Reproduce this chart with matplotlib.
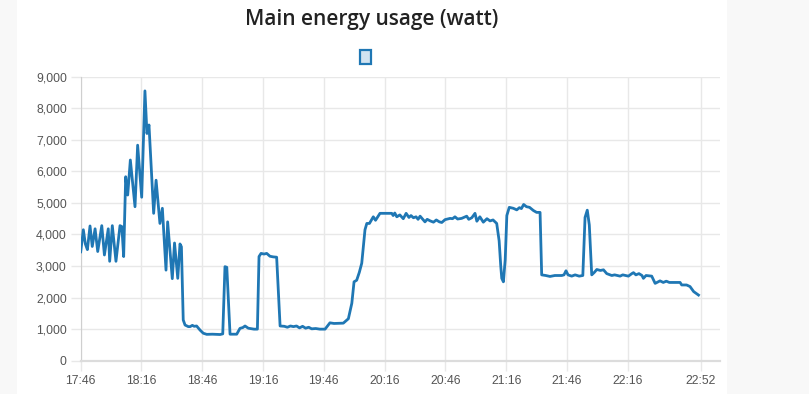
import datetime as dt
import matplotlib
matplotlib.use("Agg")
import matplotlib.pyplot as plt
import matplotlib.dates as mdates
from matplotlib.patches import Rectangle

# ---- data (minutes after 17:46, watt) ----
minutes = [0.0, 1.3, 2.3, 3.3, 4.6, 5.7, 7.1, 8.4, 10.4, 11.7, 13.6, 14.3, 15.6, 17.4,
           19.4, 20.3, 21.2, 22.2, 23.2, 24.5, 26.8, 28.1, 30.1, 31.7, 32.7, 33.7, 36.0,
           37.2, 39.1, 40.3, 42.1, 42.9, 45.2, 46.3, 47.9, 49.0, 49.7, 50.6, 51.5, 53.1,
           54.0, 55.1, 56.0, 57.2, 58.9, 60.5, 62.2, 65.0, 68.8, 70.1, 71.2, 72.1, 73.7,
           77.0, 78.6, 80.0, 81.1, 82.7, 83.6, 85.5, 87.2, 88.0, 89.0, 90.5, 91.8, 93.4,
           95.0, 96.7, 98.4, 100.5, 102.0, 103.5, 105.0, 106.5, 108.0, 109.5, 111.0, 112.5,
           114.0, 116.0, 118.0, 120.6, 123.0, 125.0, 129.6, 132.1, 133.8, 134.9, 136.2,
           137.5, 138.7, 140.3, 141.2, 142.5, 144.4, 145.5, 147.7, 150.0, 153.5, 154.2,
           155.0, 156.0, 157.5, 159.2, 160.6, 162.0, 163.0, 164.2, 165.5, 166.5, 167.5,
           169.9, 171.0, 172.5, 174.1, 175.5, 177.0, 178.2, 179.8, 181.0, 182.3, 183.5,
           184.7, 186.0, 188.0, 190.5, 191.5, 193.0, 194.6, 195.5, 197.0, 198.7, 200.5,
           202.0, 203.5, 205.3, 206.5, 207.3, 207.8, 208.6, 209.5, 210.3, 211.5, 213.5,
           215.2, 216.5, 217.5, 218.6, 220.0, 221.5, 223.4, 225.0, 226.7, 227.5, 229.5,
           231.6, 234.0, 237.4, 238.5, 239.5, 240.5, 242.3, 244.0, 246.0, 247.8, 248.9,
           250.0, 251.0, 252.2, 253.5, 254.7, 256.5, 258.0, 259.6, 262.1, 263.5, 266.2,
           267.5, 270.3, 272.0, 272.8, 274.0, 275.5, 277.0, 277.7, 279.0, 281.8, 283.5,
           285.0, 285.9, 287.5, 289.0, 290.5, 292.5, 294.0, 295.8, 296.6, 299.0, 300.7,
           302.5, 304.9]
watts = [3450, 4150, 3700, 3520, 4270, 3620, 4180, 3460, 4280, 3350, 4180, 3150, 4280, 3150,
         4280, 4250, 3300, 5830, 5250, 6360, 4880, 6830, 5180, 8550, 7200, 7470, 4670,
         5720, 4350, 4830, 2870, 4400, 2600, 3730, 2610, 3700, 3610, 1290, 1130, 1080,
         1080, 1120, 1090, 1100, 970, 870, 835, 840, 830, 850, 2980, 2960, 840,
         840, 1025, 1050, 1100, 1030, 1020, 1000, 1000, 3300, 3400, 3380, 3400, 3310,
         3290, 3280, 1100, 1090, 1060, 1100, 1080, 1100, 1040, 1090, 1030, 1060,
         1010, 1020, 1000, 1000, 1200, 1180, 1190, 1330, 1820, 2500, 2550,
         2800, 3090, 4150, 4350, 4350, 4560, 4450, 4670, 4670, 4670, 4600,
         4680, 4560, 4620, 4500, 4670, 4540, 4600, 4530, 4560, 4480, 4580,
         4400, 4480, 4430, 4390, 4460, 4400, 4380, 4470, 4490, 4510, 4500,
         4560, 4490, 4510, 4580, 4480, 4530, 4670, 4420, 4560, 4390, 4500,
         4430, 4460, 4350, 3800, 3000, 2610, 2500, 3200, 4600, 4860, 4830,
         4780, 4850, 4820, 4950, 4880, 4860, 4760, 4700, 4700, 2720, 2700,
         2670, 2700, 2700, 2720, 2850, 2720, 2680, 2720, 2680, 2700, 4540,
         4770, 4300, 2720, 2800, 2890, 2860, 2880, 2760, 2700, 2720, 2680,
         2720, 2680, 2760, 2790, 2720, 2760, 2700, 2610, 2700, 2680, 2450,
         2500, 2530, 2480, 2520, 2480, 2480, 2480, 2480, 2400, 2400, 2350,
         2190, 2080]

start_time = dt.datetime(2020, 1, 1, 17, 46)
tick_labels = ["17:46", "18:16", "18:46", "19:16", "19:46", "20:16",
               "20:46", "21:16", "21:46", "22:16", "22:52"]
y_ticks = [0, 1000, 2000, 3000, 4000, 5000, 6000, 7000, 8000, 9000]
title = "Main energy usage (watt)"

times = [start_time + dt.timedelta(minutes=m) for m in minutes]
tick_times = [dt.datetime(2020, 1, 1, int(s[:2]), int(s[3:])) for s in tick_labels]

W, H = 809, 394
fig = plt.figure(figsize=(W / 100, H / 100), dpi=100)
fig.patch.set_facecolor("#f8f8f8")
fig.patches.append(Rectangle((17 / W, 0), (727 - 17) / W, 1, transform=fig.transFigure,
                             facecolor="white", edgecolor="none", zorder=-10))

ax = fig.add_axes([80.7 / W, (H - 360.7) / H, (720 - 80.7) / W, (360.7 - 76.7) / H])
ax.set_zorder(1)
ax.set_facecolor("white")
ax.plot(times, watts, color="#1f77b4", lw=2.0, solid_joinstyle="round", zorder=3)

ax.set_ylim(0, 9000)
ax.set_yticks(y_ticks)
ax.set_yticklabels([f"{v:,}" for v in y_ticks])
ax.set_xlim(start_time, start_time + dt.timedelta(minutes=315.5))
ax.set_xticks([mdates.date2num(t) for t in tick_times])
ax.set_xticklabels(tick_labels)

ax.grid(True, color="#e8e8e8", lw=1, zorder=0)
ax.set_axisbelow(True)
for s in ["top", "right"]:
    ax.spines[s].set_visible(False)
ax.spines["left"].set_color("#cfcfcf")
ax.spines["bottom"].set_color("#dcdcdc")
ax.spines["bottom"].set_linewidth(1.6)
ax.tick_params(axis="both", colors="#e8e8e8", length=7, width=1,
               labelcolor="#555555", labelsize=8.8, pad=3)
for lab in ax.get_xticklabels() + ax.get_yticklabels():
    lab.set_family("Liberation Sans")

fig.text(372 / W, 1 - 20 / H, title, ha="center", va="center",
         fontsize=15, family="Open Sans", weight="semibold", color="#222222")

fig.patches.append(Rectangle((359.5 / W, 1 - 64 / H), 11.5 / W, 14 / H,
                             transform=fig.transFigure, facecolor="#d2e3f0",
                             edgecolor="#1f77b4", lw=1.6, zorder=5))

fig.savefig("out.png", dpi=100, facecolor=fig.get_facecolor())
